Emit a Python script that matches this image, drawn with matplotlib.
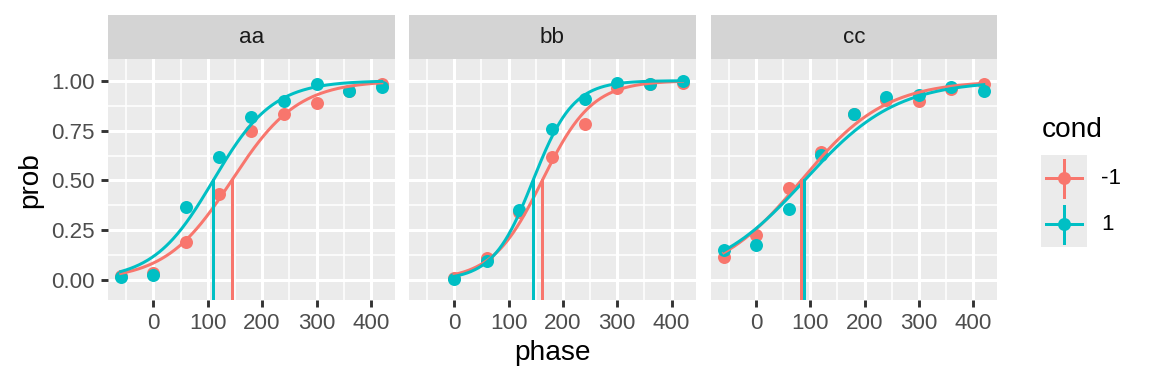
import numpy as np
import matplotlib.pyplot as plt

plt.rcParams['font.family'] = ['Liberation Sans', 'DejaVu Sans']

# --- data ---
panels = ['aa', 'bb', 'cc']
conds = ['-1', '1']
cond_colors = ['#F8766D', '#00BFC4']

phase_aa = [-60, 0, 60, 120, 180, 240, 300, 360, 420]
phase_bb = [0, 60, 120, 180, 240, 300, 360, 420]
phase_cc = [-60, 0, 60, 120, 180, 240, 300, 360, 420]

prob_aa_m1 = [0.02, 0.035, 0.19, 0.433, 0.75, 0.833, 0.89, 0.95, 0.985]
prob_aa_p1 = [0.015, 0.027, 0.368, 0.617, 0.817, 0.90, 0.983, 0.95, 0.968]
prob_bb_m1 = [0.01, 0.11, 0.34, 0.617, 0.783, 0.963, 0.983, 0.99]
prob_bb_p1 = [0.008, 0.095, 0.35, 0.757, 0.908, 0.99, 0.983, 1.0]
prob_cc_m1 = [0.115, 0.225, 0.46, 0.645, 0.835, 0.905, 0.897, 0.958, 0.985]
prob_cc_p1 = [0.152, 0.175, 0.358, 0.628, 0.835, 0.918, 0.928, 0.968, 0.95]

# fitted logistic curves: threshold (p = 0.5) and scale, per panel for cond -1 / 1
thresh_m1 = [144, 162, 83]
thresh_p1 = [110, 145, 89]
scale_m1 = [61, 46, 78]
scale_p1 = [55, 37, 85]

phases = [phase_aa, phase_bb, phase_cc]
probs = [[prob_aa_m1, prob_aa_p1], [prob_bb_m1, prob_bb_p1], [prob_cc_m1, prob_cc_p1]]
thresh = [thresh_m1, thresh_p1]
scale = [scale_m1, scale_p1]

W, H = 1152, 384
fig = plt.figure(figsize=(W / 144, H / 144), dpi=144)

def px(x0, y0, x1, y1):
    return [x0 / W, 1 - y1 / H, (x1 - x0) / W, (y1 - y0) / H]

TICK_FS = 11.2
TITLE_FS = 14
LW = 1.5

panel_x = [(107.7, 394.8), (408.5, 695.6), (710.7, 996.8)]
top, bottom, strip_top = 59.3, 300, 15

for i, name in enumerate(panels):
    x0, x1 = panel_x[i]
    ax = fig.add_axes(px(x0, top, x1, bottom))
    ax.set_facecolor('#EBEBEB')
    for s in ax.spines.values():
        s.set_visible(False)
    ax.set_xlim(-84, 444)
    ax.set_ylim(-0.099, 1.107)
    ax.set_xticks([0, 100, 200, 300, 400])
    ax.set_xticks([-50, 50, 150, 250, 350], minor=True)
    ax.set_yticks([0, 0.25, 0.5, 0.75, 1.0])
    ax.set_yticks([0.125, 0.375, 0.625, 0.875], minor=True)
    ax.grid(which='major', color='white', lw=1.5)
    ax.grid(which='minor', color='white', lw=0.75)
    ax.set_axisbelow(True)
    ax.tick_params(which='minor', length=0)
    ax.tick_params(which='major', length=3.7, width=1.45, color='#333333',
                   labelsize=TICK_FS, labelcolor='#4D4D4D', pad=2.8)
    ax.set_xticklabels(['0', '100', '200', '300', '400'])
    if i == 0:
        ax.set_yticklabels(['0.00', '0.25', '0.50', '0.75', '1.00'])
    else:
        ax.tick_params(axis='y', left=False, labelleft=False)

    ph = np.array(phases[i])
    xs = np.linspace(ph.min(), ph.max(), 300)
    for j, c in enumerate(cond_colors):
        ax.plot(ph, probs[i][j], 'o', color=c, ms=6.5, mec='none', zorder=3)
    for j, c in enumerate(cond_colors):
        m, s = thresh[j][i], scale[j][i]
        ax.plot(xs, 1 / (1 + np.exp(-(xs - m) / s)), color=c, lw=LW, zorder=4)
    for j, c in enumerate(cond_colors):
        ax.plot([thresh[j][i]] * 2, [-0.2, 0.5], color=c, lw=LW, zorder=4)

    sax = fig.add_axes(px(x0, strip_top, x1, top))
    sax.set_facecolor('#D4D4D4')
    sax.set_xticks([]); sax.set_yticks([])
    for s in sax.spines.values():
        s.set_visible(False)
    sax.text(0.5, 0.5, name, ha='center', va='center', fontsize=TICK_FS, color='#1A1A1A',
             transform=sax.transAxes)

fig.text(552 / W, 1 - 360 / H, 'phase', ha='center', va='baseline', fontsize=TITLE_FS)
fig.text(30 / W, 1 - 180 / H, 'prob', ha='center', va='center', rotation=90, fontsize=TITLE_FS)

# legend
fig.text(1041.5 / W, 1 - 137 / H, 'cond', ha='left', va='baseline', fontsize=TITLE_FS)
lax = fig.add_axes(px(1040.7, 155, 1087, 246.7))
lax.set_facecolor('#EBEBEB')
lax.set_xlim(1040.7, 1087)
lax.set_ylim(246.7, 155)
lax.set_xticks([]); lax.set_yticks([])
for s in lax.spines.values():
    s.set_visible(False)
key_y = [178, 224]
for j, c in enumerate(cond_colors):
    cy = key_y[j]
    lax.plot([1045.7, 1082.3], [cy, cy], color=c, lw=LW)
    lax.plot([1064, 1064], [cy - 18.5, cy + 18.5], color=c, lw=LW)
    lax.plot([1064], [cy], 'o', color=c, ms=6.5, mec='none')
    fig.text(1101 / W, 1 - cy / H, conds[j], ha='left', va='center', fontsize=TICK_FS)

fig.savefig('out.png', dpi=144)
